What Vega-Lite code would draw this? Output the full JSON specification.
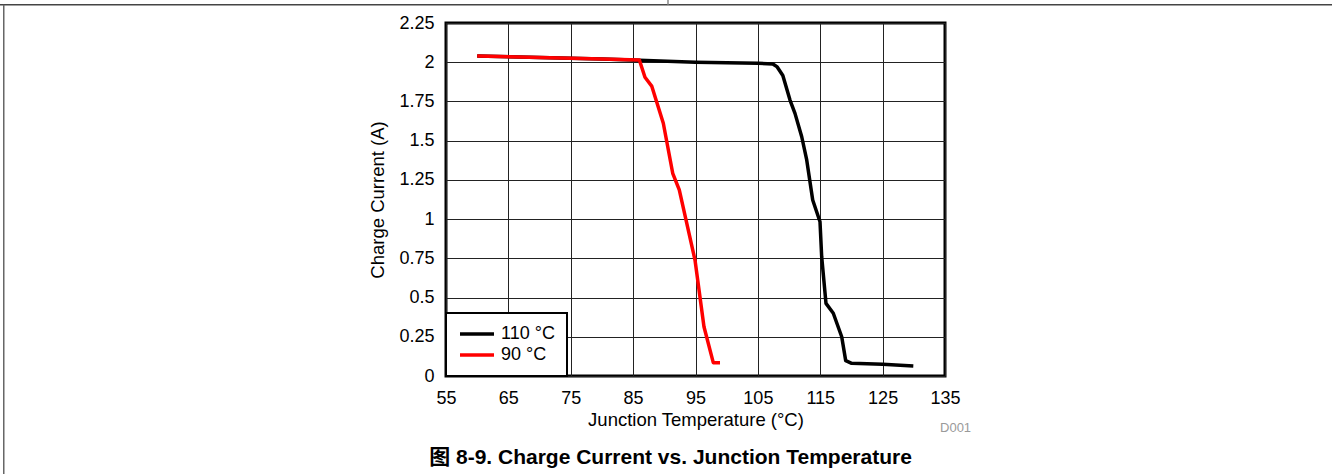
{
  "$schema": "https://vega.github.io/schema/vega-lite/v6.json",
  "autosize": {"type": "none"},
  "padding": {"left": 446, "top": 23, "right": 387, "bottom": 98},
  "width": 499,
  "height": 353,
  "background": "white",
  "title": {
    "text": "图 8-9. Charge Current vs. Junction Temperature",
    "orient": "bottom",
    "anchor": "middle",
    "frame": "group",
    "offset": -29,
    "dx": -25,
    "font": "Liberation Sans, Noto Sans CJK SC",
    "fontSize": 21,
    "fontWeight": "bold",
    "color": "black"
  },
  "datasets": {
    "curves": [
      {"T": 60.0, "I": 2.04, "series": "110 °C"},
      {"T": 70.0, "I": 2.03, "series": "110 °C"},
      {"T": 80.0, "I": 2.02, "series": "110 °C"},
      {"T": 86.0, "I": 2.013, "series": "110 °C"},
      {"T": 95.0, "I": 2.0, "series": "110 °C"},
      {"T": 105.0, "I": 1.993, "series": "110 °C"},
      {"T": 107.4, "I": 1.989, "series": "110 °C"},
      {"T": 108.1, "I": 1.97, "series": "110 °C"},
      {"T": 109.0, "I": 1.915, "series": "110 °C"},
      {"T": 110.15, "I": 1.759, "series": "110 °C"},
      {"T": 110.95, "I": 1.674, "series": "110 °C"},
      {"T": 112.03, "I": 1.525, "series": "110 °C"},
      {"T": 112.83, "I": 1.377, "series": "110 °C"},
      {"T": 113.79, "I": 1.122, "series": "110 °C"},
      {"T": 114.96, "I": 0.983, "series": "110 °C"},
      {"T": 115.23, "I": 0.76, "series": "110 °C"},
      {"T": 115.92, "I": 0.463, "series": "110 °C"},
      {"T": 117.09, "I": 0.4, "series": "110 °C"},
      {"T": 118.44, "I": 0.25, "series": "110 °C"},
      {"T": 119.08, "I": 0.098, "series": "110 °C"},
      {"T": 120.04, "I": 0.081, "series": "110 °C"},
      {"T": 125.0, "I": 0.075, "series": "110 °C"},
      {"T": 129.92, "I": 0.064, "series": "110 °C"},
      {"T": 60.0, "I": 2.04, "series": "90 °C"},
      {"T": 70.0, "I": 2.03, "series": "90 °C"},
      {"T": 80.0, "I": 2.02, "series": "90 °C"},
      {"T": 86.0, "I": 2.014, "series": "90 °C"},
      {"T": 86.9, "I": 1.904, "series": "90 °C"},
      {"T": 87.98, "I": 1.848, "series": "90 °C"},
      {"T": 89.84, "I": 1.611, "series": "90 °C"},
      {"T": 91.35, "I": 1.292, "series": "90 °C"},
      {"T": 92.4, "I": 1.186, "series": "90 °C"},
      {"T": 94.92, "I": 0.739, "series": "90 °C"},
      {"T": 96.36, "I": 0.314, "series": "90 °C"},
      {"T": 97.85, "I": 0.085, "series": "90 °C"},
      {"T": 98.93, "I": 0.085, "series": "90 °C"}
    ],
    "note": [{"label": "D001"}],
    "frame": [{"part": "page"}]
  },
  "layer": [
    {
      "data": {"name": "curves"},
      "mark": {"type": "line", "strokeWidth": 3.5, "strokeJoin": "round"},
      "encoding": {
        "x": {
          "field": "T",
          "type": "quantitative",
          "scale": {"domain": [55, 135], "nice": false, "zero": false},
          "axis": {"title": "Junction Temperature (°C)", "values": [55, 65, 75, 85, 95, 105, 115, 125, 135], "format": "d", "labelPadding": 13, "titlePadding": 3}
        },
        "y": {
          "field": "I",
          "type": "quantitative",
          "scale": {"domain": [0, 2.25], "nice": false, "zero": false},
          "axis": {"title": "Charge Current (A)", "values": [0, 0.25, 0.5, 0.75, 1, 1.25, 1.5, 1.75, 2, 2.25], "format": ".3~g", "labelPadding": 12, "titlePadding": 11}
        },
        "color": {
          "field": "series",
          "type": "nominal",
          "scale": {"domain": ["110 °C", "90 °C"], "range": ["#000000", "#ff0000"]},
          "legend": {
            "title": null,
            "orient": "bottom-left",
            "offset": 0,
            "strokeColor": "black",
            "fillColor": "white",
            "padding": 12,
            "symbolType": "stroke",
            "symbolSize": 1156,
            "symbolStrokeWidth": 3.5,
            "clipHeight": 18,
            "labelFont": "Liberation Sans",
            "labelFontSize": 18,
            "labelColor": "black",
            "labelOffset": 5,
            "rowPadding": 3,
            "labelLimit": 200,
            "encode": {"legend": {"update": {"strokeWidth": {"value": 2}}}}
          }
        }
      }
    },
    {
      "data": {"name": "note"},
      "mark": {"type": "text", "align": "left", "baseline": "middle", "font": "Liberation Sans", "fontSize": 13, "color": "#9a9a9a"},
      "encoding": {
        "x": {"datum": 134.2, "type": "quantitative", "axis": {"title": "Junction Temperature (°C)", "values": [55, 65, 75, 85, 95, 105, 115, 125, 135], "format": "d", "labelPadding": 13, "titlePadding": 3}},
        "y": {"datum": -0.331, "type": "quantitative", "axis": {"title": "Charge Current (A)", "values": [0, 0.25, 0.5, 0.75, 1, 1.25, 1.5, 1.75, 2, 2.25], "format": ".3~g", "labelPadding": 12, "titlePadding": 11}},
        "text": {"field": "label"}
      }
    },
    {
      "data": {"name": "frame"},
      "mark": {"type": "rule", "color": "#444444", "strokeWidth": 1.5},
      "encoding": {
        "x": {"datum": -16.5, "type": "quantitative", "axis": {"title": "Junction Temperature (°C)", "values": [55, 65, 75, 85, 95, 105, 115, 125, 135], "format": "d", "labelPadding": 13, "titlePadding": 3}},
        "x2": {"datum": 197.1},
        "y": {"datum": 2.3666, "type": "quantitative", "axis": {"title": "Charge Current (A)", "values": [0, 0.25, 0.5, 0.75, 1, 1.25, 1.5, 1.75, 2, 2.25], "format": ".3~g", "labelPadding": 12, "titlePadding": 11}}
      }
    },
    {
      "data": {"name": "frame"},
      "mark": {"type": "rule", "color": "#666666", "strokeWidth": 1.5},
      "encoding": {
        "x": {"datum": -15.9, "type": "quantitative", "axis": {"title": "Junction Temperature (°C)", "values": [55, 65, 75, 85, 95, 105, 115, 125, 135], "format": "d", "labelPadding": 13, "titlePadding": 3}},
        "y": {"datum": 2.3666, "type": "quantitative", "axis": {"title": "Charge Current (A)", "values": [0, 0.25, 0.5, 0.75, 1, 1.25, 1.5, 1.75, 2, 2.25], "format": ".3~g", "labelPadding": 12, "titlePadding": 11}},
        "y2": {"datum": -0.63}
      }
    },
    {
      "data": {"name": "frame"},
      "mark": {"type": "rule", "color": "#888888", "strokeWidth": 1.5},
      "encoding": {
        "x": {"datum": 90.59, "type": "quantitative", "axis": {"title": "Junction Temperature (°C)", "values": [55, 65, 75, 85, 95, 105, 115, 125, 135], "format": "d", "labelPadding": 13, "titlePadding": 3}},
        "y": {"datum": 2.3966, "type": "quantitative", "axis": {"title": "Charge Current (A)", "values": [0, 0.25, 0.5, 0.75, 1, 1.25, 1.5, 1.75, 2, 2.25], "format": ".3~g", "labelPadding": 12, "titlePadding": 11}},
        "y2": {"datum": 2.3666}
      }
    }
  ],
  "config": {
    "view": {"stroke": "black", "strokeWidth": 3},
    "axis": {
      "labelFont": "Liberation Sans",
      "labelFontSize": 18,
      "labelColor": "black",
      "titleFont": "Liberation Sans",
      "titleFontSize": 18.5,
      "titleFontWeight": "normal",
      "titleColor": "black",
      "ticks": false,
      "domain": false,
      "grid": true,
      "gridColor": "#222222",
      "gridWidth": 1,
      "gridOpacity": 1,
      "labelFlush": false,
      "labelOverlap": false
    }
  }
}
